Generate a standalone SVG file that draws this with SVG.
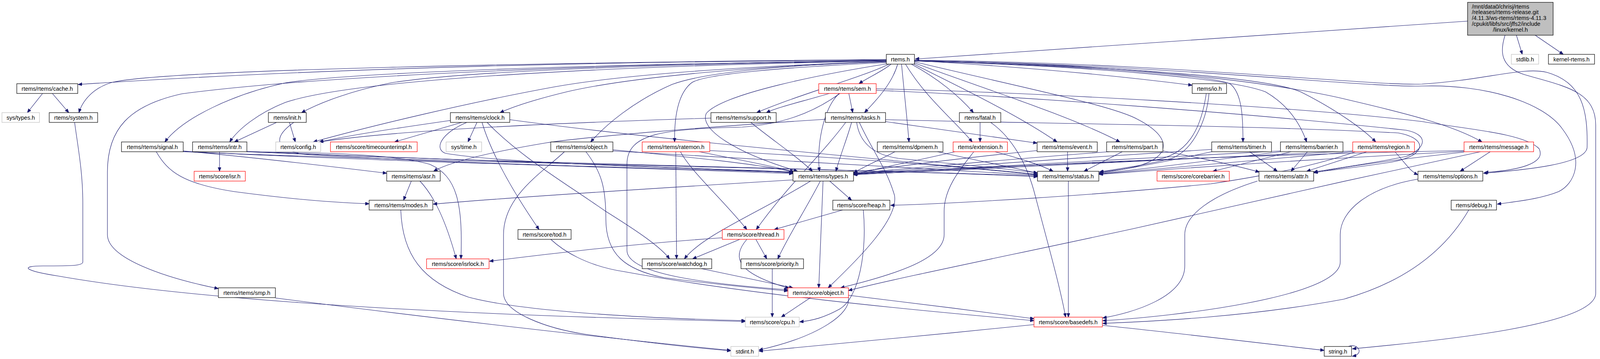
<svg xmlns="http://www.w3.org/2000/svg" width="4373" height="918" viewBox="0 0 4373 918">
<defs>
<style>
rect{fill:#fff;stroke-width:1.2}
.b rect{stroke:#000}
.g rect{stroke:#bfbfbf}
.r rect{stroke:#ff0000}
.k rect{fill:#bfbfbf;stroke:#000}
text{font-family:"Liberation Sans",Arial,Helvetica,sans-serif;font-size:14.5px;fill:#000;text-anchor:middle}
.k text{text-anchor:start}
#edges path{fill:none;stroke:#191970;stroke-width:1.1;marker-end:url(#ah)}
</style>
<marker id="ah" markerWidth="11" markerHeight="9" refX="10" refY="4" orient="auto" markerUnits="userSpaceOnUse"><path d="M0,0 L10,4 L0,8 z" fill="#191970" stroke="#191970" stroke-width="1"/></marker>
</defs>
<rect x="0" y="0" width="4373" height="918" style="fill:#fff;stroke:none"/>
<g id="edges">
<path d="M3757,54 C3200,90 2700,125 2343,151"/>
<path d="M3882,90 L3897,139"/>
<path d="M3930,90 L4002,139"/>
<path d="M3853,90 C3840,130 3840,170 3900,190 C4000,220 4085,230 4085,320 L4085,750 C4085,830 3700,870 3462,892"/>
<path d="M3452,886 C3475,876 3495,905 3462,911"/>
<path d="M2269,153 C1600,158 900,170 200,216"/>
<path d="M2269,152 C1400,160 400,178 282,212 C240,226 212,255 202,288"/>
<path d="M2269,154 C1500,165 800,195 465,240 C330,270 275,330 275,440 L275,600 C275,660 420,710 559,738"/>
<path d="M2269,155 C1500,165 900,185 730,212 C600,240 470,300 422,363"/>
<path d="M2269,156 C1500,170 900,205 730,262 C660,290 610,330 588,363"/>
<path d="M2269,155 C1700,165 1200,180 1000,212 C900,232 820,262 772,288"/>
<path d="M2269,157 C1900,170 1600,190 1420,222 C1200,262 950,322 802,363"/>
<path d="M2269,158 C1900,170 1600,200 1450,235 C1380,252 1320,270 1280,288"/>
<path d="M2269,158 C2000,166 1800,186 1720,216 C1620,260 1550,320 1512,363"/>
<path d="M2270,160 C2000,172 1800,190 1770,212 C1735,240 1726,300 1727,363"/>
<path d="M2276,164 C2200,200 2050,240 1937,288"/>
<path d="M2272,163 C2100,190 1850,240 1808,290 C1790,330 1880,390 2042,438"/>
<path d="M2281,164 C2260,182 2222,198 2199,214"/>
<path d="M2298,164 C2285,210 2250,250 2213,288"/>
<path d="M2308,164 C2314,230 2322,300 2327,363"/>
<path d="M2318,164 C2370,250 2440,305 2489,363"/>
<path d="M2333,164 C2400,200 2455,245 2492,288"/>
<path d="M2338,163 C2450,220 2600,290 2706,363"/>
<path d="M2341,161 C2500,220 2750,300 2867,363"/>
<path d="M2341,158 C2600,220 2850,270 2912,305 C3000,350 3000,400 2912,425 C2880,433 2850,437 2815,440"/>
<path d="M2341,155 C2600,170 2850,192 3052,218"/>
<path d="M2341,156 C2700,165 3100,190 3150,215 C3180,240 3182,300 3182,363"/>
<path d="M2341,156 C2800,170 3150,200 3240,235 C3300,270 3330,320 3345,363"/>
<path d="M2341,156 C2900,170 3250,200 3330,235 C3420,280 3490,330 3522,363"/>
<path d="M2341,155 C3000,165 3350,230 3450,255 C3600,290 3720,320 3794,363"/>
<path d="M2341,154 C3000,160 3500,220 3640,215 C3800,205 3900,170 3960,185 C4050,210 4065,280 4063,377 C4060,420 3900,435 3798,443"/>
<path d="M2341,155 C3000,165 3500,225 3640,220 C3800,215 3950,260 4000,330 C4060,410 4030,470 3990,490 C3940,510 3880,515 3833,522"/>
<path d="M109,239 L70,288"/>
<path d="M134,239 L176,288"/>
<path d="M191,313 C200,380 212,440 212,520 L212,670 C212,680 180,680 110,680 C50,680 60,692 150,706 C400,750 900,800 1908,822"/>
<path d="M400,388 C430,440 470,470 600,490 C750,510 850,518 945,521"/>
<path d="M469,386 C600,398 800,420 990,443"/>
<path d="M469,387 C900,410 1600,428 2030,444"/>
<path d="M469,388 C1200,418 2200,432 2656,450"/>
<path d="M562,388 L562,438"/>
<path d="M632,388 C800,390 1000,392 1100,420 C1170,450 1185,520 1180,662"/>
<path d="M632,387 C1100,408 1700,424 2030,442"/>
<path d="M632,388 C1300,418 2300,434 2656,452"/>
<path d="M741,313 L756,363"/>
<path d="M708,313 L600,363"/>
<path d="M752,313 C700,350 700,382 780,395 C1200,420 1700,430 2030,441"/>
<path d="M1153,308 C1000,330 900,345 817,363"/>
<path d="M1182,313 L1010,363"/>
<path d="M1221,313 L1198,363"/>
<path d="M1234,313 C1260,400 1320,500 1380,587"/>
<path d="M1247,313 C1330,400 1450,470 1550,540 C1630,590 1690,630 1714,662"/>
<path d="M1195,313 C1130,340 1110,380 1140,392 C1300,420 1800,430 2030,440"/>
<path d="M1305,306 C1700,360 2300,410 2656,446"/>
<path d="M1569,383 C1750,400 1950,420 2032,440"/>
<path d="M1569,386 C2000,410 2400,430 2656,448"/>
<path d="M1500,388 C1540,440 1551,480 1551,560 C1551,650 1600,690 1700,710 C1850,730 1950,738 2017,744"/>
<path d="M1445,388 C1390,440 1289,500 1289,600 L1289,750 C1289,800 1400,840 1500,855 C1650,875 1780,890 1871,897"/>
<path d="M1790,388 C1900,410 1980,425 2032,439"/>
<path d="M1817,385 C2100,400 2400,420 2656,447"/>
<path d="M1730,388 L1732,662"/>
<path d="M1742,388 C1770,440 1850,510 1912,587"/>
<path d="M1820,302 C1400,315 1000,335 818,363"/>
<path d="M1922,313 C1980,360 2040,400 2080,438"/>
<path d="M2123,239 C2060,258 1990,274 1962,288"/>
<path d="M2173,239 L2183,288"/>
<path d="M2148,239 C2105,280 2090,380 2098,438"/>
<path d="M2150,239 C2080,290 2000,318 1900,325 C1700,330 1605,340 1605,420 L1605,640 C1605,700 1800,725 2017,741"/>
<path d="M2243,227 C2600,235 3300,270 3642,311 C3750,330 3900,340 3940,380 C3960,420 3880,436 3800,441"/>
<path d="M2243,231 C2600,245 3200,290 3600,333 C3660,345 3650,380 3600,400 C3500,420 3400,433 3363,440"/>
<path d="M2180,313 C2170,350 2150,400 2140,438"/>
<path d="M2193,313 C2200,360 2230,395 2300,405 C2450,420 2580,432 2656,442"/>
<path d="M2165,313 C2100,400 2020,470 1936,587"/>
<path d="M2200,313 C2230,380 2270,430 2290,500 C2300,560 2200,660 2120,736"/>
<path d="M2113,305 C1800,325 1500,350 1400,365 C1250,390 1150,415 1110,438"/>
<path d="M2267,311 C2400,330 2550,350 2655,366"/>
<path d="M2267,306 C2600,315 3200,320 3580,340 C3660,355 3650,400 3560,415 C3460,430 3400,436 3363,441"/>
<path d="M2509,313 L2509,363"/>
<path d="M2536,313 C2590,350 2630,420 2650,500 C2690,650 2715,740 2728,811"/>
<path d="M2291,388 C2260,405 2220,422 2185,442"/>
<path d="M2400,388 C2500,410 2600,430 2656,443"/>
<path d="M2445,388 C2350,410 2250,430 2185,446"/>
<path d="M2547,388 C2610,405 2660,420 2696,438"/>
<path d="M2493,388 C2460,430 2417,480 2417,540 L2417,600 C2417,660 2300,700 2152,736"/>
<path d="M2655,385 C2450,405 2300,425 2185,441"/>
<path d="M2733,388 L2733,438"/>
<path d="M2840,388 C2600,405 2400,425 2185,443"/>
<path d="M2873,388 L2775,438"/>
<path d="M2977,386 C3080,405 3170,425 3224,440"/>
<path d="M3095,239 C3090,300 3060,380 3000,405 C2920,425 2860,432 2814,440"/>
<path d="M3088,239 C3075,330 3040,400 2950,410 C2600,425 2300,436 2185,445"/>
<path d="M3102,382 C2800,400 2400,430 2185,444"/>
<path d="M3102,388 C3000,410 2900,430 2814,443"/>
<path d="M3199,388 L3270,438"/>
<path d="M3278,386 C2900,405 2500,430 2185,445"/>
<path d="M3278,388 C3100,410 2950,430 2814,444"/>
<path d="M3305,388 L3105,438"/>
<path d="M3347,388 L3305,438"/>
<path d="M3463,386 C3000,405 2600,430 2185,446"/>
<path d="M3463,388 C3200,410 3000,430 2814,445"/>
<path d="M3499,388 L3345,438"/>
<path d="M3571,388 C3600,420 3610,438 3630,447"/>
<path d="M3470,388 C3350,430 3200,455 3100,470 C2800,500 2450,520 2280,525"/>
<path d="M3748,385 C3000,400 2500,430 2185,447"/>
<path d="M3748,387 C3300,410 3000,432 2814,446"/>
<path d="M3748,389 C3600,405 3450,425 3364,442"/>
<path d="M3815,388 L3738,438"/>
<path d="M3790,388 C3500,450 3000,560 2900,585 C2600,650 2300,710 2172,743"/>
<path d="M1053,463 L1033,512"/>
<path d="M1075,463 C1110,500 1140,560 1168,662"/>
<path d="M2030,460 C1700,480 1300,505 1109,522"/>
<path d="M2075,463 C1950,540 1800,600 1752,662"/>
<path d="M2100,463 C2060,540 2020,600 1991,662"/>
<path d="M2107,463 L2096,736"/>
<path d="M2124,463 L2180,512"/>
<path d="M2735,463 L2735,811"/>
<path d="M3219,463 C3100,500 3033,550 3033,600 L3033,680 C3033,760 2900,800 2823,813"/>
<path d="M3630,458 C3500,480 3431,540 3431,600 L3431,670 C3431,760 3000,810 2823,820"/>
<path d="M3760,537 C3700,640 3600,720 3440,765 C3200,810 2950,822 2823,827"/>
<path d="M1026,537 C1030,650 1080,720 1200,760 C1350,800 1700,815 1908,820"/>
<path d="M2210,537 C2220,640 2200,760 2150,790 C2110,812 2080,820 2047,823"/>
<path d="M2157,537 L1982,587"/>
<path d="M1849,608 C1600,625 1400,650 1253,668"/>
<path d="M1894,612 L1773,662"/>
<path d="M1935,612 L1963,662"/>
<path d="M1912,612 C1870,660 1890,700 2020,737"/>
<path d="M1796,687 L2030,736"/>
<path d="M1977,687 L1977,811"/>
<path d="M1410,612 C1440,640 1500,680 1600,695 C1900,750 2300,790 2647,820"/>
<path d="M2075,761 L2000,811"/>
<path d="M2172,755 C2300,770 2500,795 2647,815"/>
<path d="M2172,760 C2180,800 2100,860 1943,895"/>
<path d="M705,762 C1000,800 1500,860 1871,896"/>
<path d="M2647,830 C2400,855 2100,885 1943,898"/>
<path d="M2822,832 C3000,850 3250,880 3390,896"/>
</g>
<g id="n_kernel" class="k"><rect x="3757" y="6" width="219" height="84"/><text x="3768" y="21.5">/mnt/data0/chrisj/rtems</text><text x="3768" y="36.3">/releases/rtems-release.git</text><text x="3768" y="51.1">/4.11.3/ws-rtems/rtems-4.11.3</text><text x="3768" y="65.9">/cpukit/libfs/src/jffs2/include</text><text x="3866.5" y="80.7" style="text-anchor:middle">/linux/kernel.h</text></g>
<g id="n_rtems" class="b"><rect x="2269" y="139" width="72" height="25"/><text x="2305" y="156.5">rtems.h</text></g>
<g id="n_stdlib" class="g"><rect x="3869" y="139" width="70" height="25"/><text x="3904" y="156.5">stdlib.h</text></g>
<g id="n_kernel_rtems" class="b"><rect x="3964" y="139" width="118" height="25"/><text x="4023" y="156.5">kernel-rtems.h</text></g>
<g id="n_cache" class="b"><rect x="43" y="214" width="156" height="25"/><text x="121" y="231.5">rtems/rtems/cache.h</text></g>
<g id="n_sem" class="r"><rect x="2096" y="214" width="147" height="25"/><text x="2169.5" y="231.5">rtems/rtems/sem.h</text></g>
<g id="n_io" class="b"><rect x="3052" y="214" width="88" height="25"/><text x="3096" y="231.5">rtems/io.h</text></g>
<g id="n_systypes" class="g"><rect x="5" y="288" width="96" height="25"/><text x="53" y="305.5">sys/types.h</text></g>
<g id="n_system" class="b"><rect x="126" y="288" width="124" height="25"/><text x="188" y="305.5">rtems/system.h</text></g>
<g id="n_init" class="b"><rect x="687" y="288" width="97" height="25"/><text x="735.5" y="305.5">rtems/init.h</text></g>
<g id="n_clock" class="b"><rect x="1153" y="288" width="152" height="25"/><text x="1229" y="305.5">rtems/rtems/clock.h</text></g>
<g id="n_support" class="b"><rect x="1820" y="288" width="167" height="25"/><text x="1903.5" y="305.5">rtems/rtems/support.h</text></g>
<g id="n_tasks" class="b"><rect x="2113" y="288" width="154" height="25"/><text x="2190" y="305.5">rtems/rtems/tasks.h</text></g>
<g id="n_fatal" class="b"><rect x="2456" y="288" width="106" height="25"/><text x="2509" y="305.5">rtems/fatal.h</text></g>
<g id="n_signal" class="b"><rect x="311" y="363" width="158" height="25"/><text x="390" y="380.5">rtems/rtems/signal.h</text></g>
<g id="n_intr" class="b"><rect x="493" y="363" width="139" height="25"/><text x="562.5" y="380.5">rtems/rtems/intr.h</text></g>
<g id="n_config" class="g"><rect x="706" y="363" width="115" height="25"/><text x="763.5" y="380.5">rtems/config.h</text></g>
<g id="n_timecounterimpl" class="r"><rect x="846" y="363" width="222" height="25"/><text x="957" y="380.5">rtems/score/timecounterimpl.h</text></g>
<g id="n_systime" class="g"><rect x="1142" y="363" width="91" height="25"/><text x="1187.5" y="380.5">sys/time.h</text></g>
<g id="n_robject" class="b"><rect x="1410" y="363" width="159" height="25"/><text x="1489.5" y="380.5">rtems/rtems/object.h</text></g>
<g id="n_ratemon" class="r"><rect x="1644" y="363" width="173" height="25"/><text x="1730.5" y="380.5">rtems/rtems/ratemon.h</text></g>
<g id="n_dpmem" class="b"><rect x="2246" y="363" width="168" height="25"/><text x="2330" y="380.5">rtems/rtems/dpmem.h</text></g>
<g id="n_extension" class="r"><rect x="2440" y="363" width="139" height="25"/><text x="2509.5" y="380.5">rtems/extension.h</text></g>
<g id="n_event" class="b"><rect x="2655" y="363" width="154" height="25"/><text x="2732" y="380.5">rtems/rtems/event.h</text></g>
<g id="n_part" class="b"><rect x="2833" y="363" width="144" height="25"/><text x="2905" y="380.5">rtems/rtems/part.h</text></g>
<g id="n_timer" class="b"><rect x="3102" y="363" width="153" height="25"/><text x="3178.5" y="380.5">rtems/rtems/timer.h</text></g>
<g id="n_barrier" class="b"><rect x="3278" y="363" width="160" height="25"/><text x="3358" y="380.5">rtems/rtems/barrier.h</text></g>
<g id="n_region" class="r"><rect x="3463" y="363" width="158" height="25"/><text x="3542" y="380.5">rtems/rtems/region.h</text></g>
<g id="n_message" class="r"><rect x="3748" y="363" width="178" height="25"/><text x="3837" y="380.5">rtems/rtems/message.h</text></g>
<g id="n_isr" class="r"><rect x="497" y="438" width="131" height="25"/><text x="562.5" y="455.5">rtems/score/isr.h</text></g>
<g id="n_asr" class="b"><rect x="990" y="438" width="137" height="25"/><text x="1058.5" y="455.5">rtems/rtems/asr.h</text></g>
<g id="n_types" class="b"><rect x="2030" y="438" width="155" height="25"/><text x="2107.5" y="455.5">rtems/rtems/types.h</text></g>
<g id="n_status" class="b"><rect x="2656" y="438" width="157" height="25"/><text x="2734.5" y="455.5">rtems/rtems/status.h</text></g>
<g id="n_corebarrier" class="r"><rect x="2962" y="438" width="185" height="25"/><text x="3054.5" y="455.5">rtems/score/corebarrier.h</text></g>
<g id="n_attr" class="b"><rect x="3223" y="438" width="140" height="25"/><text x="3293" y="455.5">rtems/rtems/attr.h</text></g>
<g id="n_options" class="b"><rect x="3630" y="438" width="166" height="25"/><text x="3713" y="455.5">rtems/rtems/options.h</text></g>
<g id="n_modes" class="b"><rect x="945" y="512" width="163" height="25"/><text x="1026.5" y="529.5">rtems/rtems/modes.h</text></g>
<g id="n_heap" class="b"><rect x="2132" y="512" width="146" height="25"/><text x="2205" y="529.5">rtems/score/heap.h</text></g>
<g id="n_debug" class="b"><rect x="3715" y="512" width="116" height="25"/><text x="3773" y="529.5">rtems/debug.h</text></g>
<g id="n_tod" class="b"><rect x="1326" y="587" width="136" height="25"/><text x="1394" y="604.5">rtems/score/tod.h</text></g>
<g id="n_thread" class="r"><rect x="1849" y="587" width="158" height="25"/><text x="1928" y="604.5">rtems/score/thread.h</text></g>
<g id="n_isrlock" class="r"><rect x="1092" y="662" width="160" height="25"/><text x="1172" y="679.5">rtems/score/isrlock.h</text></g>
<g id="n_watchdog" class="b"><rect x="1644" y="662" width="178" height="25"/><text x="1733" y="679.5">rtems/score/watchdog.h</text></g>
<g id="n_priority" class="b"><rect x="1897" y="662" width="160" height="25"/><text x="1977" y="679.5">rtems/score/priority.h</text></g>
<g id="n_smp" class="b"><rect x="559" y="736" width="146" height="25"/><text x="632" y="753.5">rtems/rtems/smp.h</text></g>
<g id="n_sobject" class="r"><rect x="2017" y="736" width="155" height="25"/><text x="2094.5" y="753.5">rtems/score/object.h</text></g>
<g id="n_cpu" class="g"><rect x="1908" y="811" width="138" height="25"/><text x="1977" y="828.5">rtems/score/cpu.h</text></g>
<g id="n_basedefs" class="r"><rect x="2647" y="811" width="175" height="25"/><text x="2734.5" y="828.5">rtems/score/basedefs.h</text></g>
<g id="n_stdint" class="g"><rect x="1871" y="886" width="71" height="25"/><text x="1906.5" y="903.5">stdint.h</text></g>
<g id="n_string" class="b"><rect x="3390" y="886" width="70" height="25"/><text x="3425" y="903.5">string.h</text></g>
</svg>
